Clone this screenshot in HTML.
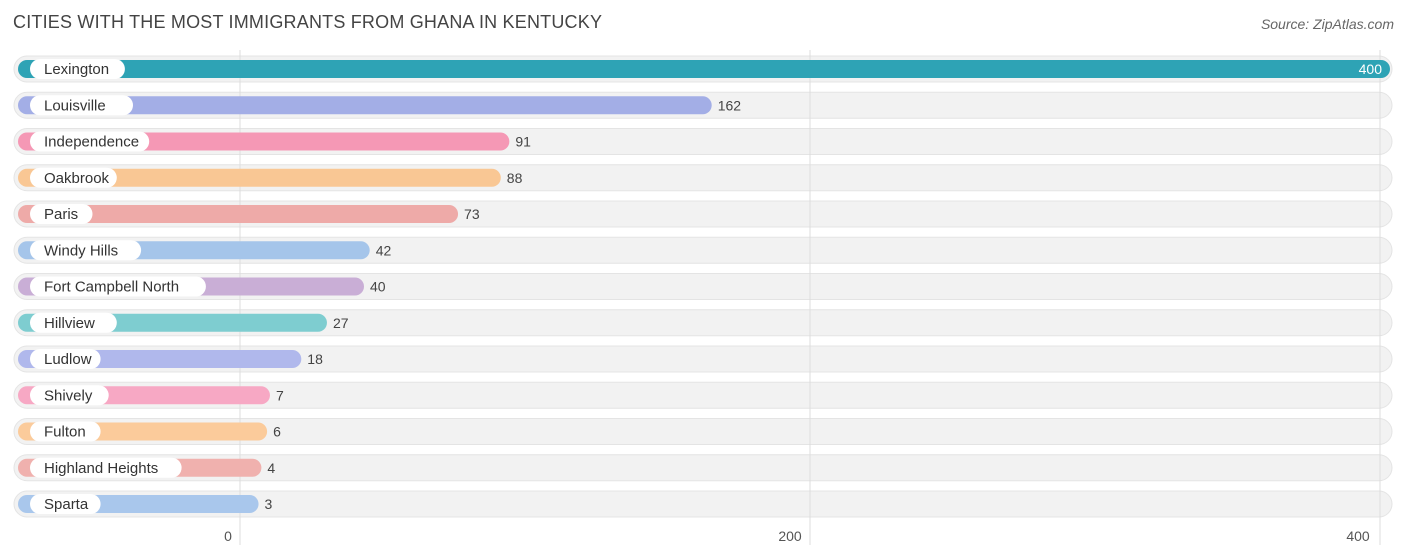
<!DOCTYPE html>
<html><head><meta charset="utf-8"><style>
body{margin:0;width:1406px;height:558px;background:#fff;font-family:"Liberation Sans",sans-serif;overflow:hidden;position:relative}
.title{position:absolute;left:13px;top:12px;font-size:18px;color:#444;letter-spacing:0.2px}
.src{position:absolute;right:12px;top:16px;font-size:14px;color:#666;font-style:italic}
</style></head><body>
<div class="title">CITIES WITH THE MOST IMMIGRANTS FROM GHANA IN KENTUCKY</div>
<div class="src">Source: ZipAtlas.com</div>
<svg id="chart" width="1406" height="558" style="position:absolute;left:0;top:0"></svg>
<script>
const categories=["Lexington","Louisville","Independence","Oakbrook","Paris","Windy Hills","Fort Campbell North","Hillview","Ludlow","Shively","Fulton","Highland Heights","Sparta"];
const values=[400,162,91,88,73,42,40,27,18,7,6,4,3];
const colors=["#2ea3b5","#a3aee6","#f598b5","#f9c794","#eeaaa8","#a5c5ea","#c9aed6","#7ecdd0","#b0b8ec","#f7a8c4","#fbcb9b","#f0b1ae","#a9c7ec"];
const ticks=[0,200,400];
const NS="http://www.w3.org/2000/svg";
const svg=document.getElementById('chart');
const x=v=>240+v*2.85;
const y=i=>69+i*36.25;
function mk(t,a){const e=document.createElementNS(NS,t);for(const k in a)e.setAttribute(k,a[k]);svg.appendChild(e);return e;}
categories.forEach((c,i)=>{
  const bg=mk('rect',{x:14,y:y(i)-13,width:1378,height:26,rx:13,fill:'#f2f2f2',stroke:'#e4e4e4'});
  
  
});
ticks.forEach(t=>{
  const l=mk('line',{x1:x(t),x2:x(t),y1:50,y2:545,stroke:'#ddd'});
  
  
  const tx=mk('text',{x:x(t)-(t===0?12:(t===400?22:20)),y:541,'font-size':14,fill:'#555','text-anchor':'middle'});
  tx.textContent=t;
  
  
});
categories.forEach((c,i)=>{
  const cy=y(i);const end=x(values[i])+10;
  const b=mk('rect',{x:18,y:cy-9,width:end-18,height:18,rx:9,fill:colors[i]});
  
  
  const w=c.length*8.1+22;
  const p=mk('rect',{x:30,y:cy-10,width:w,height:20,rx:10,fill:'#fff'});
  
  
  const t=mk('text',{x:44,y:cy+5,'font-size':15,fill:'#333'});
  t.textContent=c;
  
  
  const inside=i===0;
  const v=mk('text',{x:inside?end-8:end+6,y:cy+5,'font-size':14,fill:inside?'#fff':'#444','text-anchor':inside?'end':'start'});
  v.textContent=values[i];
  
  
});
</script>
</body></html>
